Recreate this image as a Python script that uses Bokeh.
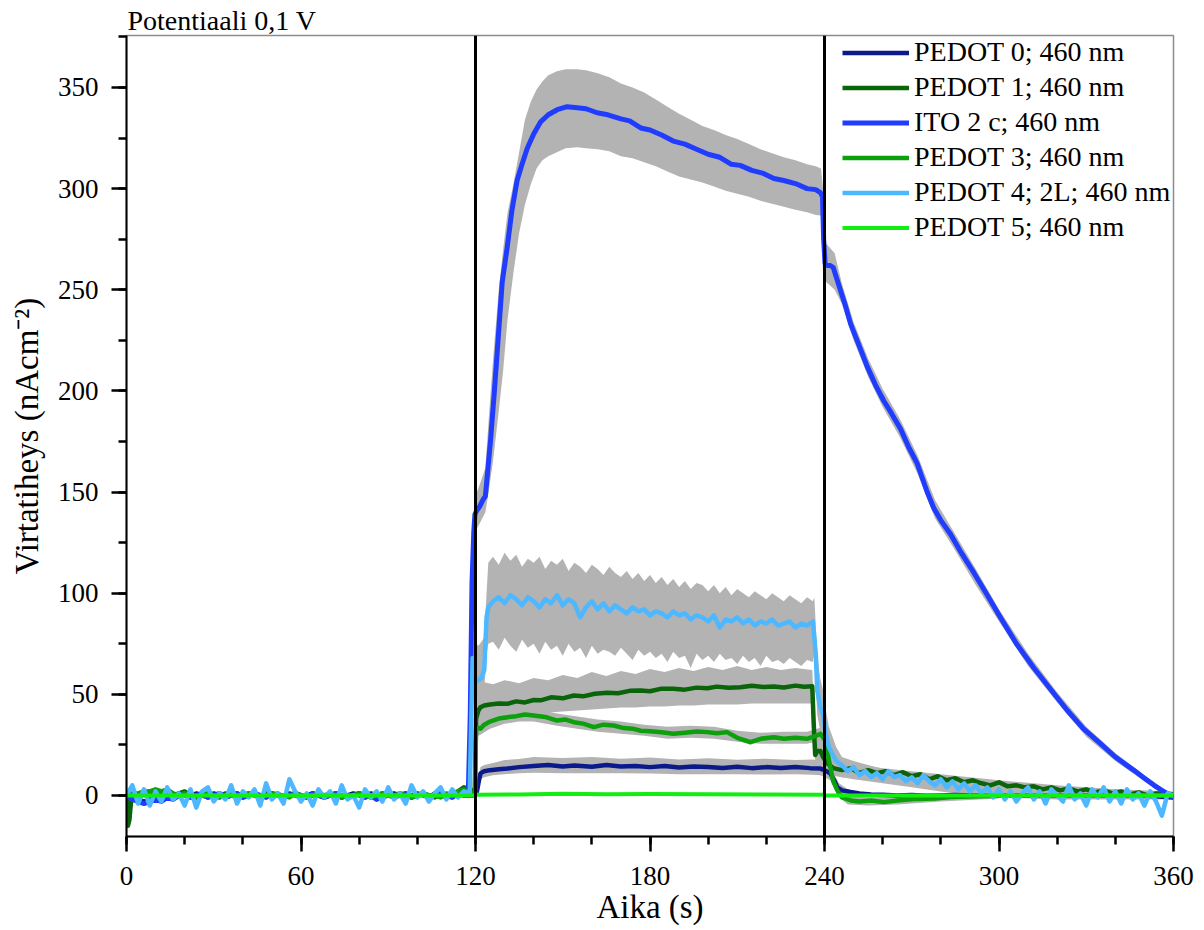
import numpy as np
from bokeh.plotting import figure
from bokeh.models import Range1d, Span, Legend, LegendItem, SingleIntervalTicker
from bokeh.embed import file_html
from bokeh.resources import INLINE

# ---------------- data ----------------
title_text = "Potentiaali 0,1 V"
x_label = "Aika (s)"
y_label = "Virtatiheys (nAcm\u207b\u00b2)"
step_times = [120, 240]
names = ["PEDOT 0; 460 nm", "PEDOT 1; 460 nm", "ITO 2 c; 460 nm",
         "PEDOT 3; 460 nm", "PEDOT 4; 2L; 460 nm", "PEDOT 5; 460 nm"]
colors = ["#0a1a8a", "#0a640a", "#1f3cff", "#0ca00c", "#4db8ff", "#12ee12"]

# PEDOT 0 (navy)
navy_pre_t = np.arange(0, 119, 2)
navy_pre_v = [0, -1, -2, -3, -2, -1, -2, 0, -1, 1,
              0, -1, 1, 0, -1, 1, 0, -1, 0, 1,
              -1, 0, 1, -1, 0, 1, 0, -1, 1, 0,
              -1, 0, 1, 0, -1, 1, 0, -1, 0, 1,
              0, -1, 1, 0, -1, 0, 1, 0, -1, 0,
              1, 0, -1, 1, 0, -1, 0, 1, 0, 0]
navy_on_t = [119.8, 120.5, 121, 121.7, 123, 125, 128, 131, 135, 140,
             145, 150, 154, 160, 165, 170, 175, 180, 185, 190,
             195, 200, 205, 210, 215, 220, 225, 230, 235, 238.6,
             240, 242, 243.5, 244.4, 246, 249, 252, 256]
navy_on_v = [0, 2, 6, 10.9, 12, 12.5, 13, 13.3, 14, 14.5,
             15, 14.3, 14.8, 14.2, 15, 14.3, 14.6, 14, 14.5, 13.8,
             14.3, 14, 13.6, 14.2, 13.5, 14, 13.6, 14.1, 13.5, 13.3,
             12.5, 10.9, 7, 4, 2.5, 1.7, 1, 0.5]
navy_tail_t = np.arange(260, 361, 5)
navy_tail_v = [0.3, 0, 0.2, -0.2, 0, 0.2, 0, -0.1, 0.1, 0,
               0, 0.1, -0.1, 0, 0, 0.1, 0, 0, 0, -0.5, -1]
navy_band_t = [119.8, 120.5, 121.7, 123, 126, 130, 135, 140, 150, 160,
               170, 180, 190, 200, 210, 220, 230, 236, 238.6, 240,
               242, 243.5, 245, 248, 252]
navy_band_lo = [-1, 0, 8, 9, 10, 10.5, 11, 11.2, 11, 11,
                11, 10.8, 10.5, 10.5, 10.5, 10.3, 10.5, 10.2, 10, 9,
                7.5, 3.5, 1.5, 0.5, 0]
navy_band_hi = [1, 4, 14, 15, 16, 17.5, 18, 19, 18.5, 19,
                18.2, 18.8, 17.8, 18.4, 17.6, 18.2, 17.5, 17.8, 17, 16,
                14, 10, 6, 3, 1]

# PEDOT 1 (dark green)
dg_pre_t = [0, 0.5, 1, 1.5, 2, 3]
dg_pre_v = [0, -15, -12, -4, 0, 1]
dg_base_t = np.arange(4, 119, 2)
dg_base_v = [0, 1, 2, 1, 2, 1, 0, 1, 2, 0,
             -1, 0, 1, 0, -1, 1, 0, -1, 0, 1,
             0, -1, 1, 0, 1, -1, 0, 1, 0, -1,
             0, 1, -1, 0, 1, 0, -1, 0, 1, 0,
             -1, 0, 1, 0, -1, 1, 0, -1, 0, 1,
             0, -1, 1, 0, 1, 2, 4, 3]
dg_on_t = [119.8, 120.2, 121, 121.7, 123, 125, 128, 131, 134, 137,
           140, 142.4, 146, 150, 153.8, 157, 161, 165.3, 169, 173,
           176.8, 180, 184, 188, 192, 196, 199.7, 203, 207, 211,
           215, 219, 222.6, 226, 230, 233, 235.8, 236.3, 236.8, 237.5,
           238.6, 239.5, 241, 243]
dg_on_v = [2, 38, 42, 43.6, 44.5, 45, 45.5, 45.3, 46.5, 46,
           47.2, 47, 48.5, 48, 49.4, 49, 50.3, 50.8, 50.5, 51.7,
           51.9, 51.5, 52.8, 52.7, 52.3, 53.3, 53, 53.8, 53.2, 53.5,
           54.2, 53.6, 53.9, 53.4, 54.3, 53.7, 54, 35, 20, 22,
           22, 19, 15.8, 13.5]
dg_tail_t = np.arange(246, 361, 3)
dg_tail_v = [12.5, 13.5, 11, 12.5, 11, 12, 10, 11.5, 9.5, 10.5,
             8, 9.5, 7.5, 8.5, 6.5, 7.5, 6, 5, 6.5, 4.5,
             5, 4, 4.5, 3, 4, 2.5, 3.5, 2, 3, 1.5,
             2.5, 1, 2, 0.5, 1.5, 0, 1, 1, 0.5]
dg_band_t = [119.8, 120.3, 121, 123, 126, 130, 135, 140, 145, 150,
             155, 160, 165, 170, 175, 180, 185, 190, 195, 200,
             205, 210, 215, 220, 225, 230, 235.8, 236.3,
             237, 238.6, 240, 242, 246, 250, 260, 270, 280, 290,
             300, 320, 340, 360]
dg_band_lo = [0, 30, 35, 37, 38, 39, 40, 40.5, 41, 41.5,
              42, 42.5, 43, 43.5, 43.5, 44, 44, 44.5, 44.5, 45,
              45, 45, 45.5, 45.5, 45.5, 45.5, 45.5, 25,
              14, 14, 12, 10, 9, 8.5, 7.5, 6.5, 5.5, 4.5,
              3.5, 2, 0.5, 0]
dg_band_hi = [4, 50, 54, 56, 55, 57, 55.5, 58, 57, 59.5,
              58, 61, 59, 61.5, 60, 62.5, 61, 63, 61.5, 63.5,
              62, 64, 62, 63.5, 62, 63, 62, 45,
              32, 30, 24, 20, 17, 16, 13.5, 12, 10.5, 9,
              7.5, 5, 3, 1]

# ITO 2 c (blue)
ito_pre_t = np.arange(0, 117, 2)
ito_pre_v = [0, -2, -3, -4, -3, -2, -3, -1, -2, 0,
             1, -1, 0, 1, -1, 0, 1, -1, 0, 1,
             -1, 0, 1, 0, -1, 1, 0, -1, 0, 1,
             0, -1, 1, 0, -1, 0, 1, -1, 0, 0,
             1, -1, 0, -2, 0, 1, -1, 0, 1, -1,
             0, 1, -1, 0, 1, 0, -1, 1, 0]
ito_on_t = [117.5, 118.2, 118.8, 119.4, 119.8, 120.5, 121.5, 122.5, 123.4, 124.3,
            125.2, 126.5, 128, 129.2, 130.9, 132.5, 134.3, 136, 137.8, 140,
            142.4, 145, 148.1, 151.5, 155, 158, 161.8, 165.5, 170, 173,
            176.8, 180, 184, 188, 192, 196, 200, 204, 208, 211,
            215, 219, 222.6, 226, 230, 234, 237, 238.6, 239.3]
ito_on_v = [0, 40, 105, 130, 139, 141, 143, 146, 148, 162,
            176, 200, 230, 254, 271, 289, 304, 312, 320, 327,
            333, 336.5, 339, 340.5, 340, 339.5, 337.5, 336.5, 334.5, 333.5,
            330, 329, 326.5, 323.5, 322, 319.5, 317, 315.5, 312, 311.5,
            309, 307.5, 305, 304, 302.5, 300, 299.5, 298, 296]
ito_off_t = [239.7, 240.2, 241, 242, 243, 245, 247, 249, 252, 254.7,
             257.5, 260.4, 263, 266.2, 269, 271.9, 275.3, 277.6, 280, 283.4,
             287, 291.4, 296, 300.5, 306, 312, 318, 323.5, 329, 334.9,
             340, 346.4, 350, 353.3, 356, 359, 360]
ito_off_v = [275, 263, 262, 262, 261, 252, 243, 233, 222, 212,
             203, 195, 189, 181, 172, 164, 150, 142, 136, 129,
             120, 110, 99, 88, 75, 63, 52, 42, 33, 25.6,
             19, 12.4, 8.5, 5, 2.5, 0, -1]
ito_band_t = [117.5, 118.5, 119.5, 120.5, 122, 123.4, 124.5, 126, 128, 129.5,
              131, 133, 135, 137, 139, 141, 143, 145, 148, 151,
              155, 158, 162, 166, 170, 174, 178, 182, 186, 190,
              194, 198, 202, 206, 210, 214, 218, 222, 226, 230,
              234, 237, 238.8, 239.5, 240.5, 243.5, 246, 250, 255, 260,
              266, 272, 278, 285, 292, 300, 310, 320, 330, 340,
              350, 360]
ito_band_hi = [2, 75, 142, 150, 156, 162, 185, 215, 250, 270,
               288, 302, 318, 334, 343, 349, 353, 356, 358, 359,
               359, 358.5, 357, 355, 352, 350, 347.5, 344, 340.5, 337,
               334, 331, 329, 326.5, 324.5, 322, 319.5, 317.5, 315.5, 314,
               312, 311, 310, 300, 273, 268, 253, 234, 216, 201,
               186, 168, 146, 129, 112, 92, 70, 51, 34, 21,
               10, 0]
ito_band_lo = [-2, 40, 128, 132, 136, 140, 150, 165, 190, 210,
               235, 258, 278, 292, 302, 310, 314, 316, 318, 320,
               320.5, 320, 319.5, 318.5, 316, 315, 313, 311, 308.5, 306,
               304.5, 303, 301, 299, 297.5, 296, 294, 292.5, 291, 289.5,
               288.3, 287, 286.7, 258, 254, 250, 243, 225, 207, 192,
               177, 159, 137, 121, 104, 86, 64, 46, 29, 17,
               7, -2]

# PEDOT 3 (green)
gr_pre_t = np.arange(0, 119, 2)
gr_pre_v = [0, 1, 1, 2, 2, 3, 2, 3, 1, 0,
            1, 0, -1, 0, 1, 0, -1, 0, 1, 0,
            0, 1, 0, -1, 0, 1, 0, 0, -1, 1,
            0, -1, 0, 1, 0, 1, 0, -1, 0, 0,
            1, 0, -1, 0, 1, 0, 0, 1, 0, -1,
            0, 1, 0, 0, -1, 1, 0, 2, 3, 1]
gr_on_t = [119.8, 120.2, 121, 121.7, 123, 125, 128, 131, 134, 137,
           140, 144, 148, 151, 153.8, 157, 160.7, 164, 167.5, 171,
           174, 176.8, 180, 184, 188, 192, 196, 199.7, 203, 206.5,
           210, 214.6, 218, 222.6, 226, 230, 234, 236, 237.5, 238.6,
           240.4, 241.2, 242, 243, 244.4, 246, 249, 252, 256, 260.4,
           265, 271.9, 278, 283.4, 290, 300, 320, 340, 360]
gr_on_v = [1, 33, 33.5, 33, 35, 36.5, 38, 38.7, 39.2, 40,
           39.5, 38.8, 37, 37.5, 36.2, 35.5, 33.8, 35, 34.6, 33.3,
           33, 32, 31.7, 31.2, 30.5, 31, 31.6, 31.3, 30.8, 31.3,
           28.5, 26.3, 28, 28.8, 28, 28.5, 28, 29, 29.7, 30.5,
           27, 20, 14, 7, 2.5, -1, -2.5, -3, -2.5, -3.3,
           -2.5, -1.7, -1.5, -0.8, -0.5, -0.2, 0, 0, 0]
gr_band_t = [119.8, 120.2, 121.7, 125, 130, 135, 140, 148, 155, 162,
             170, 178, 186, 194, 202, 210, 218, 226, 234, 238.6,
             240.4, 242, 244.4, 248, 255, 265, 280, 300]
gr_band_lo = [-1, 29, 30, 33, 35.5, 36.5, 36.5, 34.5, 33, 31.5,
              30.5, 29.5, 28, 28.5, 28, 26.5, 25.5, 25.5, 25.5, 27,
              24, 11, 0, -4.5, -5, -4.5, -3, -1.5]
gr_band_hi = [1, 37, 37, 40, 42, 43, 43, 40.5, 39, 37.5,
              36.5, 35, 34, 34.5, 34, 32, 31, 31.5, 31.5, 33.5,
              30, 17, 4, -0.5, -1, -0.5, 0, 0.5]

# PEDOT 4; 2L (light blue)
lb_pre_t = np.arange(0, 119, 2)
lb_pre_v = [0, 5, -4, 3, -5, 2, -3, 4, -2, 1,
            -5, 3, -6, 2, 4, -3, 1, -2, 5, -4,
            2, -1, 3, -5, 6, -2, 1, -4, 8, 2,
            -3, 1, -5, 3, -1, 2, -4, 5, -2, 0,
            -6, 3, -1, 2, -3, 4, -2, 1, -4, 5,
            -1, 2, -3, 1, 4, -2, 3, -1, 2, 1]
lb_on_t = [119, 119.5, 120, 121, 122, 123, 123.8, 124.4]
lb_on_v = [68, 62, 56, 57, 58, 62, 88, 93]
lb_mid_t = np.arange(126, 237, 2)
lb_mid_v = [96, 98, 95, 99, 97, 94, 98, 96, 93, 97,
            95, 99, 94, 97, 95, 88, 93, 96, 92, 95,
            91, 94, 92, 90, 93, 91, 92, 89, 91, 90,
            88, 91, 89, 90, 87, 89, 88, 86, 89, 83,
            87, 86, 88, 85, 87, 84, 86, 85, 87, 84,
            85, 86, 83, 85, 84, 86]
lb_off_t = [237, 237.5, 238.5, 239.5, 240.5, 241.5, 242.5, 244]
lb_off_v = [70, 52, 44, 40, 30, 24, 21, 17]
lb_tail_t = np.arange(246, 361, 2)
lb_tail_v = [15, 12, 14, 10, 12, 9, 11, 8, 12, 9,
             10, 7, 9, 6, 10, 7, 5, 8, 4, 7,
             3, 6, 2, 5, 1, 4, -1, 3, -2, 2,
             -3, 1, 4, -2, 2, -4, 3, 0, -3, 5,
             -2, 1, -5, 3, -1, 4, -3, 2, -4, 3,
             -2, 1, -5, 2, -3, -10, 1, 0]
lb_band_on_t = [118.8, 119.3, 120, 121, 122, 123, 123.8, 124.4]
lb_band_on_lo = [-4, 55, 48, 49, 50, 52, 70, 75]
lb_band_on_hi = [4, 80, 75, 74, 76, 78, 100, 115]
lb_band_mid_hi = [118, 114, 120, 116, 119, 113, 117, 115, 118, 112,
                  116, 114, 117, 111, 115, 113, 110, 114, 112, 109,
                  113, 110, 108, 111, 107, 110, 106, 109, 105, 108,
                  104, 107, 103, 106, 102, 105, 104, 101, 104, 100,
                  103, 99, 102, 100, 98, 101, 99, 97, 100, 98,
                  96, 99, 97, 95, 98, 96]
lb_band_mid_lo = [76, 72, 78, 74, 71, 77, 73, 75, 70, 76,
                  72, 74, 69, 75, 71, 73, 68, 74, 70, 72,
                  71, 69, 73, 70, 67, 72, 69, 71, 68, 70,
                  66, 71, 68, 69, 63, 70, 67, 69, 66, 70,
                  67, 68, 65, 69, 66, 68, 64, 69, 66, 67,
                  65, 68, 66, 64, 67, 66]
lb_band_off_t = [236.5, 237.5, 238.5, 239.5, 240.5, 241.5, 242.5, 244, 246, 250,
                 255, 260, 270, 280, 290, 300, 320, 340, 360]
lb_band_off_hi = [98, 70, 58, 52, 42, 34, 30, 24, 19, 17,
                  15, 13, 11, 9, 6, 5, 4, 3, 2]
lb_band_off_lo = [70, 40, 32, 28, 20, 15, 12, 10, 9, 8,
                  7, 6, 4, 2, 0, -1, -2, -2, -2]

# PEDOT 5 (bright green)
bg_t = [0, 119.5, 120.5, 135, 150, 165, 180, 200, 220, 239.5, 240.5, 360]
bg_v = [0, 0, 0.3, 0.5, 0.8, 0.6, 0.7, 0.6, 0.5, 0.4, 0, 0]

band_color = "#b3b3b3"
FONT = "Liberation Serif"

# ---------------- figure ----------------
p = figure(width=1204, height=930, x_range=Range1d(0, 360), y_range=Range1d(-20.3, 375.7),
           output_backend="svg", toolbar_location=None, title=title_text,
           min_border_left=126, min_border_right=31, min_border_top=35, min_border_bottom=94)
p.title.align = "left"
p.title.offset = 1
p.title.standoff = 0
p.title.text_font = FONT
p.title.text_font_size = "28px"
p.title.text_font_style = "normal"
p.title.text_color = "black"
p.grid.visible = False
p.outline_line_color = "#8c8c8c"
p.outline_line_width = 1.5
p.background_fill_color = "white"
p.border_fill_color = "white"

cat = np.concatenate
bands = [
    (navy_band_t, navy_band_lo, navy_band_hi),
    (dg_band_t, dg_band_lo, dg_band_hi),
    (ito_band_t, ito_band_lo, ito_band_hi),
    (gr_band_t, gr_band_lo, gr_band_hi),
    (cat([lb_band_on_t, lb_mid_t, lb_band_off_t]),
     cat([lb_band_on_lo, lb_band_mid_lo, lb_band_off_lo]),
     cat([lb_band_on_hi, lb_band_mid_hi, lb_band_off_hi])),
]
for bt, lo, hi in bands:
    p.varea(x=list(bt), y1=list(lo), y2=list(hi), fill_color=band_color, fill_alpha=1.0)

series = [
    (cat([navy_pre_t, navy_on_t, navy_tail_t]), cat([navy_pre_v, navy_on_v, navy_tail_v]), 4.5),
    (cat([dg_pre_t, dg_base_t, dg_on_t, dg_tail_t]), cat([dg_pre_v, dg_base_v, dg_on_v, dg_tail_v]), 4.5),
    (cat([ito_pre_t, ito_on_t, ito_off_t]), cat([ito_pre_v, ito_on_v, ito_off_v]), 5),
    (cat([gr_pre_t, gr_on_t]), cat([gr_pre_v, gr_on_v]), 4.5),
    (cat([lb_pre_t, lb_on_t, lb_mid_t, lb_off_t, lb_tail_t]),
     cat([lb_pre_v, lb_on_v, lb_mid_v, lb_off_v, lb_tail_v]), 4.5),
    (np.array(bg_t), np.array(bg_v), 4),
]
renderers = []
for (st, sv, lw), col in zip(series, colors):
    r = p.line(x=list(st), y=list(sv), line_color=col, line_width=lw, line_join="round")
    renderers.append(r)

for st_time in step_times:
    p.add_layout(Span(location=st_time, dimension="height", line_color="black", line_width=3))

# axes
for ax in (p.xaxis[0], p.yaxis[0]):
    ax.axis_line_color = "black"
    ax.axis_line_width = 2
    ax.major_tick_line_color = "black"
    ax.major_tick_line_width = 2.5
    ax.minor_tick_line_color = "black"
    ax.minor_tick_line_width = 2.5
    ax.major_tick_in = 0
    ax.major_tick_out = 15
    ax.minor_tick_in = 0
    ax.minor_tick_out = 8
    ax.major_label_text_font = FONT
    ax.major_label_text_font_size = "27px"
    ax.major_label_text_color = "black"
    ax.axis_label_text_font = FONT
    ax.axis_label_text_font_size = "33px"
    ax.axis_label_text_font_style = "normal"
    ax.axis_label_text_color = "black"

p.xaxis.ticker = SingleIntervalTicker(interval=60, num_minor_ticks=3)
p.yaxis.ticker = SingleIntervalTicker(interval=50, num_minor_ticks=2)
p.xaxis.axis_label = x_label
p.yaxis.axis_label = y_label
p.xaxis.major_label_standoff = 15
p.xaxis.axis_label_standoff = 1
p.yaxis.major_label_standoff = 13
p.yaxis.axis_label_standoff = 10

legend = Legend(items=[LegendItem(label=n, renderers=[r]) for n, r in zip(names, renderers)],
                location=(708, 583.5), orientation="vertical",
                padding=8, spacing=0, margin=0,
                glyph_width=67, glyph_height=35, label_height=35, label_standoff=5,
                label_text_font=FONT, label_text_font_size="28px", label_text_color="black",
                background_fill_alpha=0, border_line_alpha=0)
p.add_layout(legend, "center")

open("out.html", "w").write(file_html(p, INLINE))
